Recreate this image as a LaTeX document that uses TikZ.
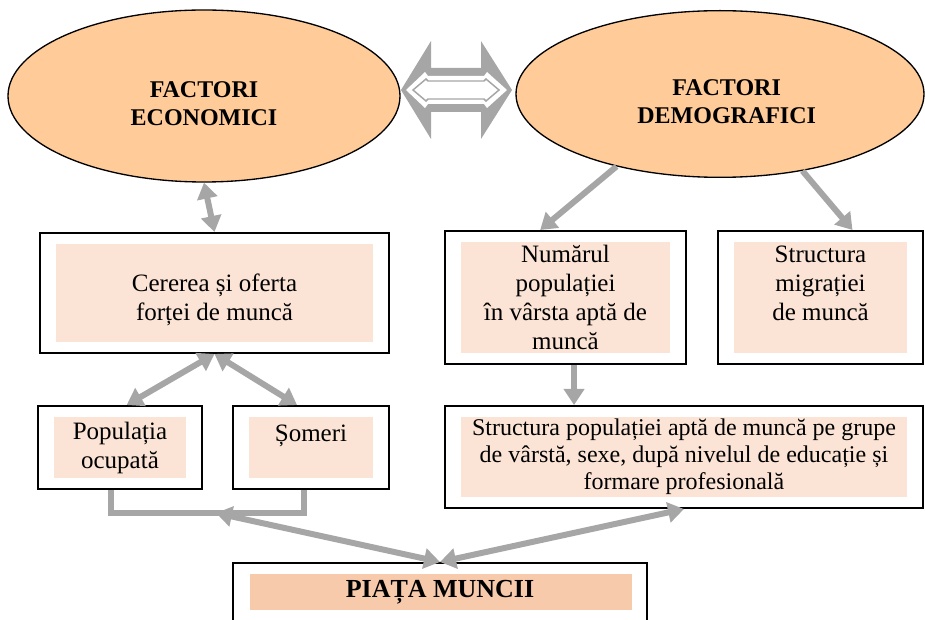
\documentclass[tikz,border=0pt]{standalone}
\usepackage{fontspec}
\setmainfont{Liberation Serif}
\usetikzlibrary{shapes.geometric,arrows.meta}
\definecolor{factorfill}{HTML}{FFCC99}
\definecolor{lightfill}{HTML}{FBE4D5}
\definecolor{deepfill}{HTML}{F7CAAC}
\definecolor{arrowgray}{HTML}{A6A6A6}
\newcommand{\bodyfont}{\fontsize{18.75}{21.75}\selectfont}
\newcommand{\structfont}{\fontsize{18}{20.25}\selectfont}
\newcommand{\headfont}{\fontsize{18}{21}\selectfont\bfseries}
\newcommand{\marketfont}{\fontsize{19.5}{22}\selectfont\bfseries}

\begin{document}
\begin{tikzpicture}[x=0.75pt, y=-0.75pt]
\tikzstyle{factor} = [ellipse, draw, line width=1pt, fill=factorfill, inner sep=0pt]
\tikzstyle{heading} = [font=\headfont, align=center, yshift=-6pt]
\tikzstyle{outline} = [rectangle, draw, line width=1.5pt, fill=white, align=center, inner sep=0pt, font=\bodyfont]
\tikzstyle{frame} = [outline, path picture={\fill[lightfill] ([shift={(12pt,8.25pt)}]path picture bounding box.south west) rectangle ([shift={(-12pt,-8.25pt)}]path picture bounding box.north east);}]
\tikzstyle{marketframe} = [outline, path picture={\fill[deepfill] ([shift={(12.5pt,8.25pt)}]path picture bounding box.south west) rectangle ([shift={(-11.5pt,-8.25pt)}]path picture bounding box.north east);}]
\tikzstyle{link} = [draw=arrowgray, line width=4.5pt]
\tikzstyle{both} = [link, {Triangle[length=12pt,width=15pt]}-{Triangle[length=12pt,width=15pt]}]
\tikzstyle{one} = [link, -{Triangle[length=12pt,width=15pt]}]

\useasboundingbox (0,0) rectangle (925,620);

\node[factor, minimum width=294pt, minimum height=129pt,
    label={[heading]center:FACTORI\\ECONOMICI}] (fe) at (204,96) {};
\node[factor, minimum width=306pt, minimum height=125pt,
    label={[heading, xshift=5pt]center:FACTORI\\DEMOGRAFICI}] (fd) at (720,94) {};

\fill[arrowgray] (401,90) -- (431,41) -- (431,68) -- (481,68) -- (481,41) -- (512,90)
    -- (481,139) -- (481,112) -- (431,112) -- (431,139) -- cycle;
\fill[white] (406,90) -- (425,72) -- (428,76) -- (484,76) -- (487,72) -- (507,90)
    -- (487,108) -- (484,104) -- (428,104) -- (425,108) -- cycle;
\draw[arrowgray, line width=1.1pt] (413,90) -- (426,79) -- (428,81) -- (484,81) -- (486,79)
    -- (499,90) -- (486,101) -- (484,99) -- (428,99) -- (426,101) -- cycle;

\node[frame, minimum width=261.75pt, minimum height=90pt] (cer) at (214.5,293)
    {\rule{0pt}{24pt}Cererea și oferta\\forței de muncă};
\node[frame, minimum width=180.75pt, minimum height=99.75pt] (num) at (565.5,297.5)
    {Numărul\\populației\\în vârsta aptă de\\muncă};
\node[frame, minimum width=153.75pt, minimum height=99.75pt] (mig) at (820.5,297.5)
    {Structura\\migrației\\de muncă\\ \mbox{}};
\node[frame, minimum width=123pt, minimum height=62.25pt] (pop) at (120,447.5)
    {Populația\\ocupată};
\node[frame, minimum width=117pt, minimum height=62.25pt] (som) at (311,447.5)
    {Șomeri\\ \mbox{}};
\node[frame, minimum width=358.5pt, minimum height=76.5pt, font=\structfont] (str) at (684,457)
    {Structura populației aptă de muncă pe grupe\\de vârstă, sexe, după nivelul de educație și\\formare profesională};
\node[marketframe, minimum width=310.5pt, minimum height=43.5pt, font=\marketfont] (piata) at (440,592)
    {PIAȚA MUNCII};

\draw[both] (fe.south) -- (cer.north);
\draw[both] (cer.south) -- ([xshift=5pt]pop.north);
\draw[both] (cer.south) -- ([xshift=-10.5pt]som.north);
\coordinate (join) at (216,513);
\draw[link] ([xshift=-6.5pt]pop.south) |- (join) -| ([xshift=-5pt]som.south);
\draw[both] (join) -- (piata.north);
\draw[both] (piata.north) -- (str.south);
\draw[one] (fd.215) -- ([xshift=-19pt]num.north);
\draw[one] (fd.317) -- ([xshift=24pt]mig.north);
\coordinate (numout) at ([xshift=6.4pt]num.south);
\draw[one] (numout) -- (numout |- str.north);
\end{tikzpicture}
\end{document}
